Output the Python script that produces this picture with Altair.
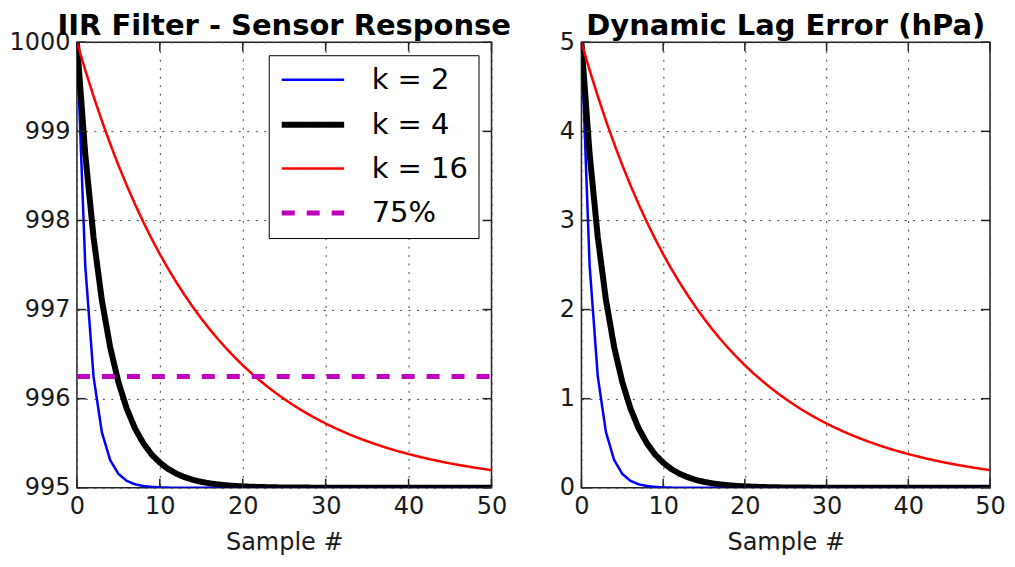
import altair as alt
import pandas as pd

# ---------------- data ----------------
samples = list(range(51))

# lag error (hPa) per sample for each filter constant
err_k2 = [5.0, 2.5, 1.25, 0.625, 0.313, 0.156, 0.078, 0.039, 0.020, 0.010,
          0.005, 0.002, 0.001, 0.001, 0.0, 0.0, 0.0, 0.0, 0.0, 0.0,
          0.0, 0.0, 0.0, 0.0, 0.0, 0.0, 0.0, 0.0, 0.0, 0.0,
          0.0, 0.0, 0.0, 0.0, 0.0, 0.0, 0.0, 0.0, 0.0, 0.0,
          0.0, 0.0, 0.0, 0.0, 0.0, 0.0, 0.0, 0.0, 0.0, 0.0, 0.0]
err_k4 = [5.0, 3.75, 2.813, 2.109, 1.582, 1.187, 0.890, 0.667, 0.501, 0.375,
          0.282, 0.211, 0.158, 0.119, 0.089, 0.067, 0.050, 0.038, 0.028, 0.021,
          0.016, 0.012, 0.009, 0.007, 0.005, 0.004, 0.003, 0.002, 0.002, 0.001,
          0.001, 0.0, 0.0, 0.0, 0.0, 0.0, 0.0, 0.0, 0.0, 0.0,
          0.0, 0.0, 0.0, 0.0, 0.0, 0.0, 0.0, 0.0, 0.0, 0.0, 0.0]
err_k16 = [5.0, 4.688, 4.395, 4.120, 3.862, 3.621, 3.395, 3.183, 2.984, 2.797,
           2.622, 2.458, 2.305, 2.161, 2.026, 1.899, 1.780, 1.669, 1.565, 1.467,
           1.375, 1.289, 1.209, 1.133, 1.062, 0.996, 0.934, 0.875, 0.821, 0.769,
           0.721, 0.676, 0.634, 0.594, 0.557, 0.522, 0.490, 0.459, 0.430, 0.404,
           0.378, 0.355, 0.333, 0.312, 0.292, 0.274, 0.257, 0.241, 0.226, 0.212, 0.198]

base_pressure = 995
level_75 = 996.25
level_x = [0, 50]

series_names = ["k = 2", "k = 4", "k = 16", "75%"]
series_colors = ["#0000ff", "#000000", "#ff0000", "#bf00bf"]
series_widths = [2.5, 6, 2.5, 5]
series_dashes = [[1, 0], [1, 0], [1, 0], [13, 12]]

x_ticks = [0, 10, 20, 30, 40, 50]
y_ticks_left = [995, 996, 997, 998, 999, 1000]
y_ticks_right = [0, 1, 2, 3, 4, 5]

# ---------------- tables ----------------
rows = []
for name, errs in zip(series_names[:3], [err_k2, err_k4, err_k16]):
    for s, e in zip(samples, errs):
        rows.append({"sample": s, "series": name, "err": e, "response": base_pressure + e})
for s in level_x:
    rows.append({"sample": s, "series": "75%", "err": None, "response": level_75})
df = pd.DataFrame(rows)

FONT = "DejaVu Sans"
W_L, W_R, H = 415, 409, 446
TICK = 9


def panel(yfield, ydomain, yticks, title, width, names, show_legend):
    xs = alt.Scale(domain=[0, 50], nice=False, zero=False)
    ys = alt.Scale(domain=ydomain, nice=False, zero=False)
    x_axis = alt.Axis(values=x_ticks, title="Sample #", labelFlush=False,
                      labelOverlap=False, format="d")
    y_axis = alt.Axis(values=yticks, title=None, labelOverlap=False, format="d")
    x = alt.X("sample:Q", scale=xs, axis=x_axis, title="Sample #")
    y = alt.Y(f"{yfield}:Q", scale=ys, axis=y_axis, title=None)
    legend = None
    if show_legend:
        legend = alt.Legend(title=None, orient="none", legendX=192, legendY=13,
                            symbolType="M-1,0H4", symbolSize=625,
                            labelFontSize=29, labelFont=FONT, labelColor="black",
                            labelOffset=62, fillColor="white", strokeColor="black",
                            padding=10, rowPadding=14)
    dom = names
    idx = [series_names.index(n) for n in names]
    color = alt.Color("series:N", legend=legend,
                      scale=alt.Scale(domain=dom, range=[series_colors[i] for i in idx]))
    sw = alt.StrokeWidth("series:N", legend=legend,
                         scale=alt.Scale(type="ordinal", domain=dom,
                                         range=[series_widths[i] for i in idx]))
    sd = alt.StrokeDash("series:N", legend=legend,
                        scale=alt.Scale(domain=dom, range=[series_dashes[i] for i in idx]))
    layers = []
    for n in names:
        layers.append(
            alt.Chart(df).transform_filter(alt.datum.series == n)
            .mark_line(clip=True, strokeCap="butt")
            .encode(x=x, y=y, color=color, strokeWidth=sw, strokeDash=sd)
        )
    xt = pd.DataFrame({"sample": x_ticks})
    yt = pd.DataFrame({yfield: yticks})
    tick_style = dict(color="#222222", strokeWidth=1.5)
    layers.append(alt.Chart(xt).mark_rule(**tick_style).encode(
        x=x, y=alt.value(0), y2=alt.value(TICK)))
    layers.append(alt.Chart(xt).mark_rule(**tick_style).encode(
        x=x, y=alt.value(H - TICK), y2=alt.value(H)))
    layers.append(alt.Chart(yt).mark_rule(**tick_style).encode(
        y=y, x=alt.value(0), x2=alt.value(TICK)))
    layers.append(alt.Chart(yt).mark_rule(**tick_style).encode(
        y=y, x=alt.value(width - TICK), x2=alt.value(width)))
    return alt.layer(*layers).properties(
        width=width, height=H,
        title=alt.TitleParams(title, font=FONT, fontSize=29, fontWeight="bold",
                              color="black", anchor="middle", offset=-11),
    )


left = panel("response", [995, 1000], y_ticks_left, "IIR Filter - Sensor Response",
             W_L, series_names, True)
right = panel("err", [0, 5], y_ticks_right, "Dynamic Lag Error (hPa)",
              W_R, series_names[:3], False)

chart = alt.hconcat(left, right, spacing=90, bounds="flush").resolve_scale(
    color="independent", strokeWidth="independent", strokeDash="independent",
    x="independent", y="independent"
).properties(padding={"top": 3, "left": 0, "right": 0, "bottom": 0},
             background="white").configure_view(
    stroke="#222222", strokeWidth=1.5
).configure_axis(
    domain=False, ticks=False, grid=True, gridColor="#444444", gridWidth=1,
    gridDash=[2, 6.5], labelFont=FONT, labelFontSize=24, labelColor="#1a1a1a",
    titleFont=FONT, titleFontSize=24, titleFontWeight="normal", titleColor="#1a1a1a",
    labelPadding=7, titlePadding=12
)

chart.save("out.html", embed_options={"renderer": "svg", "actions": False})
